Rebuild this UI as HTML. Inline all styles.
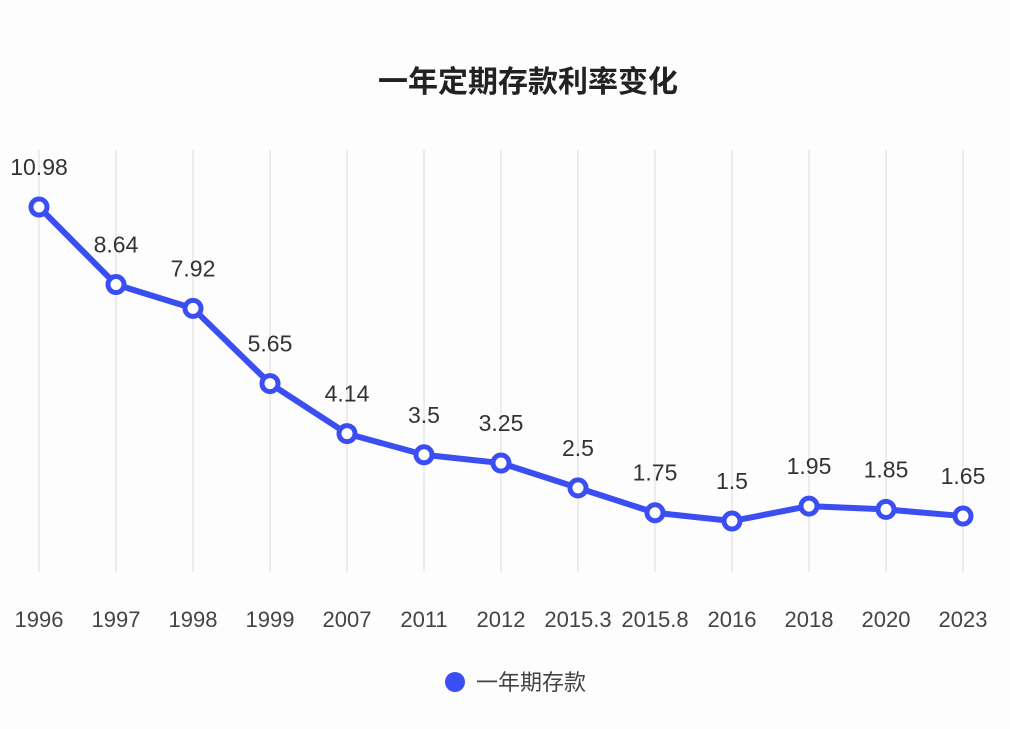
<!DOCTYPE html>
<html><head><meta charset="utf-8"><style>
html,body{margin:0;padding:0;background:#fdfdfd;}
svg{display:block;font-family:"Liberation Sans","Noto Sans CJK SC",sans-serif;}
</style></head><body>
<svg id="chart" width="1010" height="729" viewBox="0 0 1010 729">
<rect width="1010" height="729" fill="#fdfdfd"/>
<text x="528" y="92" text-anchor="middle" font-size="30" font-weight="bold" fill="#222">一年定期存款利率变化</text>
<g id="grid"></g>
<g id="xlabels"></g>
<path id="line" fill="none" stroke="#3b4ef2" stroke-width="6" stroke-linejoin="round"/>
<g id="points"></g>
<g id="vlabels"></g>
<g>
<circle cx="455" cy="682" r="10" fill="#3b4ef2"/>
<text x="476" y="690" font-size="22" fill="#444">一年期存款</text>
</g>
</svg>
<script>
const categories = ["1996","1997","1998","1999","2007","2011","2012","2015.3","2015.8","2016","2018","2020","2023"];
const values = [10.98,8.64,7.92,5.65,4.14,3.5,3.25,2.5,1.75,1.5,1.95,1.85,1.65];
const NS="http://www.w3.org/2000/svg";
function xScale(i){return 39 + i*(963-39)/(categories.length-1);}
function yScale(v){return 570.7 - v*33.12;}
const grid=document.getElementById('grid'),xl=document.getElementById('xlabels'),pts=document.getElementById('points'),vl=document.getElementById('vlabels');
let d="";
categories.forEach((c,i)=>{
  const x=xScale(i);
  const ln=document.createElementNS(NS,'line');
  ln.setAttribute('x1',x);ln.setAttribute('x2',x);ln.setAttribute('y1',150);ln.setAttribute('y2',572);
  ln.setAttribute('stroke','#e6e6e6');ln.setAttribute('stroke-width','1.5');
  
  
  grid.appendChild(ln);
  const t=document.createElementNS(NS,'text');
  t.setAttribute('x',x);t.setAttribute('y',627);t.setAttribute('text-anchor','middle');
  t.setAttribute('font-size','22');t.setAttribute('fill','#444');t.textContent=c;
  
  
  xl.appendChild(t);
});
values.forEach((v,i)=>{
  const x=xScale(i),y=yScale(v);
  d+=(i?"L":"M")+x+","+y;
  const c=document.createElementNS(NS,'circle');
  c.setAttribute('cx',x);c.setAttribute('cy',y);c.setAttribute('r',8);
  c.setAttribute('fill','#fff');c.setAttribute('stroke','#3b4ef2');c.setAttribute('stroke-width','5');
  
  
  pts.appendChild(c);
  const t=document.createElementNS(NS,'text');
  t.setAttribute('x',x);t.setAttribute('y',y-32);t.setAttribute('text-anchor','middle');
  t.setAttribute('font-size','23');t.setAttribute('fill','#333');t.textContent=String(v);
  
  
  vl.appendChild(t);
});
document.getElementById('line').setAttribute('d',d);
</script>
</body></html>
